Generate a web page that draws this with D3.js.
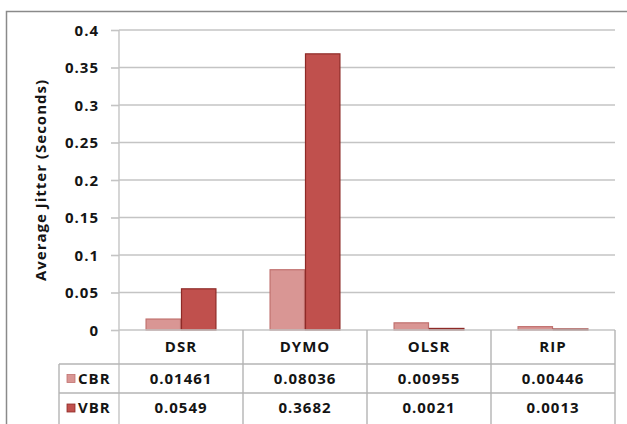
<!DOCTYPE html>
<html>
<head>
<meta charset="utf-8">
<script src="https://cdn.jsdelivr.net/npm/d3@7"></script>
<style>
  html, body { margin: 0; padding: 0; background: #fff; }
  svg { display: block; }
  text { font-family: "Open Sans", Lato, sans-serif; font-weight: bold; fill: #141414; letter-spacing: 1px; }
</style>
</head>
<body>
<svg id="chart" width="627" height="424"></svg>
<script>
// Routing protocols and their average jitter per traffic type
const protocols = ["DSR", "DYMO", "OLSR", "RIP"];
const seriesNames = ["CBR", "VBR"];
const cbrValues = [0.01461, 0.08036, 0.00955, 0.00446];
const vbrValues = [0.0549, 0.3682, 0.0021, 0.0013];
const cbrLabels = ["0.01461", "0.08036", "0.00955", "0.00446"];
const vbrLabels = ["0.0549", "0.3682", "0.0021", "0.0013"];
const yTicks = [0, 0.05, 0.1, 0.15, 0.2, 0.25, 0.3, 0.35, 0.4];
const yTickLabels = ["0", "0.05", "0.1", "0.15", "0.2", "0.25", "0.3", "0.35", "0.4"];
const yTitle = "Average Jitter (Seconds)";

const fills = { CBR: "#d99694", VBR: "#c0504d" };
const strokes = { CBR: "#c0706e", VBR: "#8e2a27" };

const svg = d3.select("#chart");

const plot = { left: 119, right: 615, top: 30, bottom: 330 };
const rowH = [34, 29, 30];   // header, CBR, VBR
const tableLeft = 59;

// outer frame
svg.append("rect")
  .attr("x", 6.5).attr("y", 11.5).attr("width", 640).attr("height", 430)
  .attr("fill", "none").attr("stroke", "#8a8a8a").attr("stroke-width", 1.5);

const x = d3.scaleBand().domain(protocols).range([plot.left, plot.right]);
const y = d3.scaleLinear().domain([0, 0.4]).range([plot.bottom, plot.top]);

const barW = x.bandwidth() / (2 + 1.5);
const xs = d3.scaleBand().domain(seriesNames).range([0, barW * 2]);

// gridlines and tick marks
const yAxis = d3.axisLeft(y).tickValues(yTicks)
  .tickFormat((d, i) => yTickLabels[i]).tickSize(8).tickPadding(12);
const gAxis = svg.append("g").attr("transform", `translate(${plot.left},0)`).call(yAxis);
gAxis.select(".domain").remove();
gAxis.selectAll(".tick line").attr("stroke", "#c4c4c4").attr("stroke-width", 1.6);
gAxis.selectAll(".tick text").attr("font-size", 15).attr("fill", "#141414")
  .attr("font-family", "'Open Sans', sans-serif").attr("font-weight", "bold")
  .attr("dy", "0.36em");

svg.append("g").selectAll("line").data(yTicks.filter(d => d > 0)).join("line")
  .attr("x1", plot.left).attr("x2", plot.right)
  .attr("y1", d => y(d)).attr("y2", d => y(d))
  .attr("stroke", "#c4c4c4").attr("stroke-width", 1.6);

// bars
const rows = protocols.map((p, i) => ({ p, CBR: cbrValues[i], VBR: vbrValues[i] }));
const groups = svg.append("g").selectAll("g").data(rows).join("g")
  .attr("transform", d => `translate(${x(d.p) + (x.bandwidth() - barW * 2) / 2},0)`);
groups.selectAll("rect").data(d => seriesNames.map(s => ({ s, v: d[s] }))).join("rect")
  .attr("x", d => xs(d.s) + 0.5)
  .attr("width", barW - 1)
  .attr("y", d => y(d.v))
  .attr("height", d => y(0) - y(d.v))
  .attr("fill", d => fills[d.s])
  .attr("stroke", d => strokes[d.s]).attr("stroke-width", 1.2);

// value axis line and table grid
const gridC = "#b4b4b4";
const yRow0 = plot.bottom, yRow1 = yRow0 + rowH[0], yRow2 = yRow1 + rowH[1], yRow3 = yRow2 + rowH[2];
const tg = svg.append("g").attr("stroke", gridC).attr("stroke-width", 1.4);
tg.append("line").attr("x1", plot.left).attr("x2", plot.left).attr("y1", plot.top).attr("y2", yRow3 + 5).attr("stroke", "#c4c4c4");
tg.append("line").attr("x1", plot.left).attr("x2", plot.right).attr("y1", yRow0).attr("y2", yRow0).attr("stroke", "#c4c4c4");
[yRow1, yRow2].forEach(yy => tg.append("line").attr("x1", tableLeft).attr("x2", plot.right).attr("y1", yy).attr("y2", yy));
tg.append("line").attr("x1", tableLeft).attr("x2", tableLeft).attr("y1", yRow1).attr("y2", yRow3 + 5);
protocols.slice(1).forEach(p => tg.append("line").attr("x1", x(p)).attr("x2", x(p)).attr("y1", yRow0).attr("y2", yRow3 + 5));
tg.append("line").attr("x1", plot.right).attr("x2", plot.right).attr("y1", yRow0).attr("y2", yRow3 + 5);

// table text
const cx = p => x(p) + x.bandwidth() / 2;
svg.append("g").selectAll("text").data(protocols).join("text")
  .attr("x", cx).attr("y", yRow0 + rowH[0] / 2 + 5)
  .attr("text-anchor", "middle").attr("font-size", 15).text(d => d);
[[cbrLabels, yRow1, rowH[1]], [vbrLabels, yRow2, rowH[2]]].forEach(([labels, y0, h]) => {
  svg.append("g").selectAll("text").data(protocols).join("text")
    .attr("x", cx).attr("y", y0 + h / 2 + 5)
    .attr("text-anchor", "middle").attr("font-size", 15).text((d, i) => labels[i]);
});

// legend keys inside the table
seriesNames.forEach((s, i) => {
  const y0 = i === 0 ? yRow1 : yRow2, h = rowH[i + 1];
  svg.append("rect").attr("x", 67).attr("y", y0 + h / 2 - 4).attr("width", 8).attr("height", 8)
    .attr("fill", fills[s]).attr("stroke", strokes[s]).attr("stroke-width", 0.8);
  svg.append("text").attr("x", 78).attr("y", y0 + h / 2 + 5).attr("font-size", 15)
    .attr("letter-spacing", "0px").text(s);
});

// y axis title
svg.append("text")
  .attr("transform", `translate(46,${(plot.top + plot.bottom) / 2}) rotate(-90)`)
  .attr("text-anchor", "middle").attr("font-size", 15).attr("font-weight", 600)
  .attr("letter-spacing", "0.3px").text(yTitle);
</script>
</body>
</html>
